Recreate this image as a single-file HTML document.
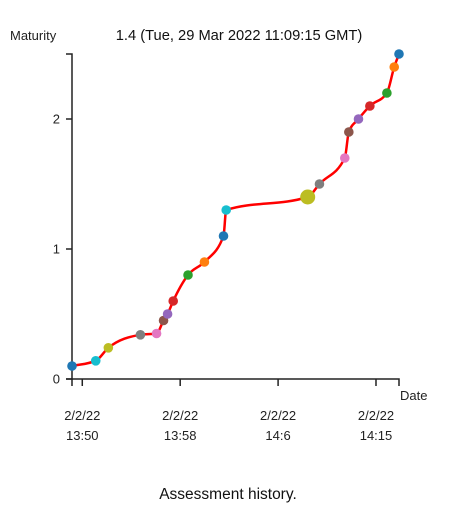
<!DOCTYPE html>
<html><head><meta charset="utf-8"><style>
html,body{margin:0;padding:0;background:#fff;}
svg{display:block;font-family:"Liberation Sans",sans-serif;}
</style></head><body>
<svg id="chart" width="465" height="515" viewBox="0 0 465 515">
<rect x="0" y="0" width="465" height="515" fill="#fff"/>
<text x="10" y="40" font-size="13" fill="#222">Maturity</text>
<text x="239" y="40" font-size="14.7" text-anchor="middle" fill="#111">1.4 (Tue, 29 Mar 2022 11:09:15 GMT)</text>
<g id="axes"></g>
<path id="line" fill="none" stroke="#f00" stroke-width="2.5"/>
<g id="points"></g>
<text x="400" y="400" font-size="13" fill="#222">Date</text>
<text x="228" y="499" font-size="15.5" text-anchor="middle" fill="#111">Assessment history.</text>
</svg>
<script>
// minutes since 13:50
const minutes = [-0.84,1.10,2.13,4.75,6.07,6.64,6.97,7.43,8.64,9.98,11.54,11.76,18.42,19.38,21.45,21.78,22.57,23.5,24.89,25.49,25.88];
const maturity = [0.1,0.14,0.24,0.34,0.35,0.45,0.5,0.6,0.8,0.9,1.1,1.3,1.4,1.5,1.7,1.9,2.0,2.1,2.2,2.4,2.5];
const highlightIndex = 12;
const xTickValues = [0,8,16,24];
const xTickLabels = [["2/2/22","13:50"],["2/2/22","13:58"],["2/2/22","14:6"],["2/2/22","14:15"]];
const yTickValues = [0,1,2];

const NS="http://www.w3.org/2000/svg";
const x0=72,x1=399,y0=379,yTop=54;
const xMin=-0.84,xMax=25.88,yMax=2.5;
const xs=m=>x0+(m-xMin)/(xMax-xMin)*(x1-x0);
const ys=v=>y0-v/yMax*(y0-yTop);
const cat=["#1f77b4","#ff7f0e","#2ca02c","#d62728","#9467bd","#8c564b","#e377c2","#7f7f7f","#bcbd22","#17becf"];
function mk(tag,attrs,parent){const e=document.createElementNS(NS,tag);for(const k in attrs)e.setAttribute(k,attrs[k]);parent.appendChild(e);return e;}
const axes=document.getElementById('axes');
let p=mk('path',{d:`M66,${yTop}H72V${y0}H66`,fill:'none',stroke:'#222','stroke-width':1.5},axes);


yTickValues.forEach(v=>{
  const l=mk('line',{x1:66,x2:72,y1:ys(v),y2:ys(v),stroke:'#222','stroke-width':1.5},axes);
  
  
  const t=mk('text',{x:60,y:ys(v)+4.5,'font-size':13,'text-anchor':'end',fill:'#222'},axes);
  t.textContent=v;
  
  
});
p=mk('path',{d:`M${x0},${y0+7}V${y0}H${x1}V${y0+7}`,fill:'none',stroke:'#222','stroke-width':1.5},axes);


xTickValues.forEach((v,i)=>{
  const X=xs(v);
  const l=mk('line',{x1:X,x2:X,y1:y0,y2:y0+7,stroke:'#222','stroke-width':1.5},axes);
  
  
  xTickLabels[i].forEach((s,j)=>{
    const t=mk('text',{x:X,y:420+j*20,'font-size':13,'text-anchor':'middle',fill:'#222'},axes);
    t.textContent=s;
    
    
  });
});
const P=minutes.map((m,i)=>[xs(m),ys(maturity[i])]);
const n=P.length,sl=[],tg=[];
for(let i=0;i<n-1;i++)sl.push((P[i+1][1]-P[i][1])/(P[i+1][0]-P[i][0]));
for(let i=0;i<n;i++){
  if(i===0)tg.push(sl[0]);else if(i===n-1)tg.push(sl[n-2]);
  else{const a=sl[i-1],b=sl[i];if(a*b<=0)tg.push(0);else{const h0=P[i][0]-P[i-1][0],h1=P[i+1][0]-P[i][0];
    const w=(a*h1+b*h0)/(h0+h1);tg.push((Math.sign(a)+Math.sign(b))*Math.min(Math.abs(a),Math.abs(b),0.5*Math.abs(w)));}}
}
let d=`M${P[0][0]},${P[0][1]}`;
for(let i=0;i<n-1;i++){const h=(P[i+1][0]-P[i][0])/3;
  d+=`C${P[i][0]+h},${P[i][1]+h*tg[i]} ${P[i+1][0]-h},${P[i+1][1]-h*tg[i+1]} ${P[i+1][0]},${P[i+1][1]}`;}
document.getElementById('line').setAttribute('d',d);
const pts=document.getElementById('points');
P.forEach((q,i)=>{
  const c=mk('circle',{cx:q[0],cy:q[1],r:i===highlightIndex?7.5:4.8,fill:cat[(n-1-i)%10]},pts);
  
  
});
</script>
</body></html>
